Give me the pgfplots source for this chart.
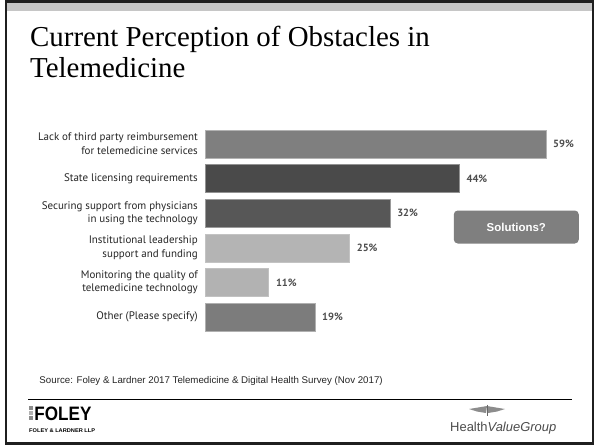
\documentclass[border=0pt]{standalone}
\usepackage{fontspec}
\setmainfont{Liberation Sans}
\newfontfamily\titlefont{Liberation Serif}
\newfontfamily\labfont{PT Sans}
\usepackage{pgfplots}
\pgfplotsset{compat=1.18}
\definecolor{cA}{HTML}{7F7F7F}
\definecolor{cB}{HTML}{4A4A4A}
\definecolor{cC}{HTML}{575757}
\definecolor{cD}{HTML}{B4B4B4}
\definecolor{cE}{HTML}{B2B2B2}
\definecolor{cF}{HTML}{7C7C7C}
\definecolor{band}{HTML}{C6C6C6}
\definecolor{txt}{HTML}{262626}
\definecolor{val}{HTML}{4D4D4D}
\begin{document}
\begin{tikzpicture}
\path[use as bounding box] (0,0) rectangle (594bp,-445bp);
\begin{scope}[x=1bp,y=-1bp]
\fill[white] (0,0) rectangle (594,445);
\fill[black!88] (5,0) rectangle (594,445);
\fill[white] (7,3) rectangle (591.7,441.5);
\fill[band] (7,3) rectangle (591.7,11);
\node[anchor=base west, inner sep=0pt, font=\titlefont\fontsize{29}{31}\selectfont] at (30,46.5) {Current Perception of Obstacles in};
\node[anchor=base west, inner sep=0pt, font=\titlefont\fontsize{29}{31}\selectfont] at (30,77.5) {Telemedicine};
\end{scope}
\begin{axis}[
  at={(205bp,-126.7bp)}, anchor=north west,
  scale only axis, width=340.7bp, height=207.6bp,
  xmin=0, xmax=59, ymin=-0.5, ymax=5.5, y dir=reverse,
  clip=false,
  hide x axis,
  axis y line*=left,
  y axis line style={draw=none},
  major tick length=0pt,
  ytick={0,1,2,3,4,5},
  yticklabels={{Lack of third party reimbursement\\for telemedicine services},{State licensing requirements},{Securing support from physicians\\in using the technology},{Institutional leadership\\support and funding},{Monitoring the quality of\\telemedicine technology},{Other (Please specify)}},
  yticklabel style={align=right, inner sep=0pt, xshift=-7bp, text=txt, font=\labfont\fontsize{11}{13.7}\selectfont},
  every axis plot/.append style={xbar, bar shift=0pt, bar width=28bp},
  point meta=x,
  nodes near coords={\pgfmathprintnumber[assume math mode=true]{\pgfplotspointmeta}\%},
  nodes near coords style={anchor=west, xshift=4bp, text=val, font=\labfont\bfseries\fontsize{10.5}{12}\selectfont},
]
\addplot[fill=cA, draw=cA!60!white] coordinates {(59,0)};
\addplot[fill=cB, draw=cB!60!white] coordinates {(44,1)};
\addplot[fill=cC, draw=cC!60!white] coordinates {(32,2)};
\addplot[fill=cD, draw=cD!80!white] coordinates {(25,3)};
\addplot[fill=cE, draw=cE!80!white] coordinates {(11,4)};
\addplot[fill=cF, draw=cF!60!white] coordinates {(19,5)};
\end{axis}
\begin{scope}[x=1bp,y=-1bp]
\node[fill=cA, rounded corners=4bp, minimum width=125bp, minimum height=33bp, inner sep=0pt, text=white, font=\bfseries\fontsize{11.5}{13}\selectfont] at (516.3,227) {Solutions?};
\node[anchor=base west, inner sep=0pt, text=txt, font=\fontsize{9.75}{11}\selectfont] at (39.3,383.2) {Source: Foley \& Lardner 2017 Telemedicine \& Digital Health Survey (Nov 2017)};
\draw[line width=1bp] (28,399.5) -- (572,399.5);
% Foley logo
\fill[black!45] (29,405.8) rectangle (33,409.6);
\fill[black!30] (29,410.6) rectangle (33,414.6);
\fill[black!45] (29,415.6) rectangle (33,420);
\node[anchor=base west, inner sep=0pt, xscale=0.88, font=\bfseries\fontsize{19.5}{20}\selectfont] at (34.3,420) {FOLEY};
\node[anchor=base west, inner sep=0pt, xscale=1.05, font=\bfseries\fontsize{5.4}{6}\selectfont] at (29,432.3) {FOLEY \& LARDNER LLP};
% HealthValueGroup logo
\fill[black!45] (487,406) -- (469,409) -- (477,411.5) -- (486,413) -- cycle;
\fill[black!45] (487,406) -- (505,409) -- (497,411.5) -- (488,413) -- cycle;
\draw[black!60, line width=1bp] (487,404.5) -- (487,416);
\node[anchor=base west, inner sep=0pt, text=black!70, font=\fontsize{13}{14}\selectfont] at (450,431) {Health\textit{ValueGroup}};
\end{scope}
\end{tikzpicture}
\end{document}
